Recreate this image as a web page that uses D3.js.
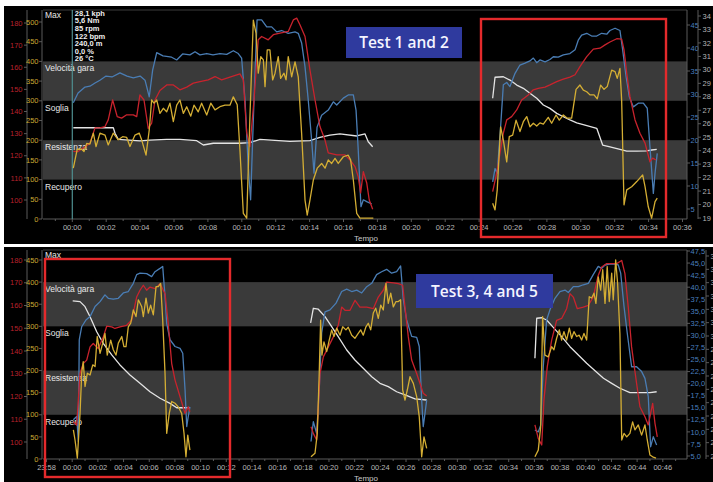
<!DOCTYPE html>
<html>
<head>
<meta charset="utf-8">
<script src="https://cdn.jsdelivr.net/npm/d3@7"></script>
<style>
  body { margin: 0; background: #fff; }
  svg { display: block; }
</style>
</head>
<body>
<svg id="chart" width="713" height="482"></svg>
<script>
// ---- Session 1 (tests 1 and 2): [minutes, value] ----
const speed1 = [[0.06,28.1],[0.34,30.2],[0.75,31.5],[1.04,31.7],[1.34,32.4],[1.63,33.0],[1.99,33.9],[2.34,33.7],[2.81,34.6],[3.23,33.9],[3.60,33.5],[4.00,33.9],[4.29,33.0],[4.54,29.4],[4.74,35.2],[4.98,39.0],[5.35,38.3],[5.86,38.0],[6.16,37.4],[6.51,38.7],[6.94,38.5],[7.24,39.2],[7.53,38.5],[7.93,38.8],[8.30,38.5],[8.71,38.8],[9.11,38.6],[9.50,39.4],[9.79,38.8],[9.99,37.8],[10.19,28.7],[10.38,14.2],[10.52,7.0],[10.72,28.7],[10.90,46.1],[11.17,46.1],[11.47,44.6],[11.76,44.6],[12.06,43.5],[12.35,43.8],[12.74,43.2],[13.14,43.5],[13.33,43.2],[13.53,41.1],[13.73,35.9],[13.92,28.7],[14.12,20.0],[14.26,12.8],[14.44,22.8],[14.71,25.4],[15.10,26.5],[15.40,28.3],[15.60,27.6],[15.99,29.1],[16.28,29.8],[16.58,29.8],[16.74,26.5],[16.87,17.8],[17.03,5.5],[17.17,7.0],[17.37,6.6],[17.66,6.1]];
const hr1 = [[0.06,122.0],[0.34,121.9],[0.75,124.1],[1.04,125.7],[1.34,132.6],[1.63,132.6],[1.93,133.2],[2.12,136.2],[2.38,145.2],[2.65,137.7],[2.91,137.0],[3.21,138.5],[3.60,138.5],[3.80,137.7],[3.99,147.5],[4.23,145.2],[4.48,132.4],[4.68,134.7],[4.88,145.2],[5.17,149.5],[5.57,152.0],[5.96,152.0],[6.35,149.8],[6.75,151.0],[7.14,152.8],[7.53,153.5],[8.02,154.3],[8.42,155.8],[8.81,154.3],[9.30,155.5],[9.89,157.0],[10.09,154.3],[10.29,130.3],[10.48,124.1],[10.72,145.2],[10.97,172.4],[11.17,173.9],[11.56,172.4],[11.86,174.7],[12.25,175.4],[12.74,176.2],[13.04,181.4],[13.24,182.2],[13.43,179.2],[13.73,173.9],[14.02,158.8],[14.32,145.2],[14.61,133.2],[14.91,127.1],[15.10,121.3],[15.60,120.4],[16.09,120.4],[16.38,118.1],[16.68,115.1],[16.87,110.5],[17.01,103.2],[17.17,112.8],[17.37,107.7],[17.52,100.0],[17.72,95.8]];
const power1 = [[0.06,129],[0.16,150],[0.29,177],[0.55,177],[0.69,171],[0.85,192],[1.04,190],[1.24,218],[1.40,184],[1.63,218],[1.93,213],[2.12,188],[2.42,218],[2.71,201],[2.97,209],[3.21,207],[3.40,184],[3.70,213],[3.95,218],[4.09,201],[4.35,162],[4.54,226],[4.68,302],[4.82,294],[4.98,302],[5.17,268],[5.37,281],[5.57,272],[5.76,294],[5.96,247],[6.16,289],[6.35,302],[6.55,268],[6.75,285],[6.99,261],[7.18,289],[7.43,272],[7.63,294],[7.93,264],[8.17,294],[8.42,277],[8.71,285],[9.01,289],[9.30,289],[9.50,310],[9.73,290],[9.89,175],[10.09,14],[10.29,2],[10.48,260],[10.68,505],[10.84,471],[10.97,370],[11.12,412],[11.27,404],[11.37,336],[11.50,429],[11.66,429],[11.82,353],[11.96,370],[12.15,412],[12.29,357],[12.49,370],[12.61,353],[12.74,412],[12.94,361],[13.14,399],[13.33,361],[13.53,217],[13.73,48],[13.86,10],[14.02,48],[14.22,99],[14.45,129],[14.71,141],[14.91,129],[15.10,150],[15.30,141],[15.50,154],[15.69,141],[15.99,158],[16.28,162],[16.42,150],[16.58,99],[16.78,14],[16.97,2],[17.76,2]];
const temp1 = [[0.06,25.70],[2.42,25.70],[2.52,25.29],[2.71,24.84],[3.99,24.72],[4.58,24.79],[5.57,24.84],[6.35,24.84],[7.34,24.74],[7.73,24.42],[8.32,24.55],[9.89,24.55],[10.48,24.59],[11.07,24.84],[12.84,24.69],[14.02,24.74],[14.61,24.99],[15.20,25.16],[15.79,25.24],[16.78,25.09],[17.27,25.24],[17.46,24.66],[17.72,24.29]];

const speed2 = [[24.80,10.9],[24.94,13.8],[25.07,12.8],[25.27,22.9],[25.43,32.0],[25.63,32.5],[25.82,31.6],[26.12,34.5],[26.41,36.3],[26.71,36.7],[27.00,37.2],[27.20,37.8],[27.40,36.8],[27.59,37.4],[27.89,37.0],[28.18,37.5],[28.38,38.1],[28.67,38.0],[28.97,38.5],[29.36,38.8],[29.66,39.6],[29.85,41.7],[30.05,42.8],[30.35,43.2],[30.64,42.6],[30.94,42.6],[31.23,43.2],[31.53,43.0],[31.72,43.8],[32.02,44.3],[32.31,43.8],[32.47,39.6],[32.67,33.8],[32.86,29.4],[33.10,27.2],[33.39,28.0],[33.69,28.0],[33.92,26.9],[34.08,18.5],[34.28,8.4],[34.38,12.8],[34.51,17.1]];
const hr2 = [[24.80,103.8],[25.04,112.1],[25.23,121.1],[25.43,130.2],[25.63,136.2],[25.92,137.7],[26.22,140.7],[26.51,145.2],[26.90,147.5],[27.20,149.8],[27.49,150.5],[27.89,151.0],[28.18,152.0],[28.58,153.5],[28.97,154.6],[29.36,155.5],[29.66,156.6],[29.95,160.3],[30.35,164.8],[30.74,168.2],[31.13,168.6],[31.43,170.1],[31.72,171.4],[32.12,172.9],[32.41,172.7],[32.55,167.9],[32.71,157.3],[32.90,146.7],[33.20,136.2],[33.49,130.2],[33.79,125.7],[34.08,117.3],[34.24,118.9],[34.44,118.1]];
const power2 = [[24.80,40],[24.94,23],[25.07,74],[25.27,234],[25.43,200],[25.63,145],[25.78,209],[25.98,213],[26.18,251],[26.41,222],[26.61,247],[26.81,260],[27.00,234],[27.20,243],[27.40,236],[27.59,244],[27.79,241],[28.08,258],[28.28,243],[28.54,264],[28.73,251],[28.97,264],[29.20,256],[29.46,256],[29.72,329],[29.95,340],[30.15,327],[30.35,323],[30.54,315],[30.78,315],[30.97,305],[31.17,340],[31.37,329],[31.56,336],[31.82,378],[32.02,374],[32.15,357],[32.31,382],[32.41,302],[32.55,36],[32.71,74],[33.00,82],[33.30,95],[33.65,112],[33.79,82],[33.98,31],[34.18,2],[34.38,44],[34.51,53]];
const temp2 = [[24.80,27.89],[24.94,29.45],[25.43,29.49],[25.82,29.24],[26.22,28.87],[26.61,28.63],[27.00,28.26],[27.40,27.89],[27.79,27.39],[28.18,27.14],[28.58,26.77],[28.97,26.52],[29.36,26.28],[29.76,26.07],[30.25,25.90],[30.94,25.66],[31.29,24.42],[31.72,24.29],[32.31,24.10],[32.71,23.97],[33.30,23.97],[33.89,23.99],[34.18,24.05],[34.48,24.10]];

// ---- Session 2 (tests 3, 4 and 5) ----
const speed3 = [[0.09,12.5],[0.35,13.2],[0.48,8.0],[0.55,29.1],[0.74,31.8],[1.07,33.2],[1.39,33.9],[1.78,36.0],[2.17,37.0],[2.55,38.4],[2.81,37.7],[3.20,37.5],[3.59,37.7],[3.98,38.8],[4.37,39.1],[4.76,40.8],[5.02,42.6],[5.28,42.9],[5.80,42.8],[6.19,42.2],[6.45,43.2],[6.84,43.9],[7.05,44.3],[7.23,38.1],[7.36,32.5],[7.62,29.1],[8.01,27.7],[8.40,27.3],[8.61,26.3],[8.79,18.7],[8.92,11.1],[9.04,13.2],[9.17,15.2]];
const hr3 = [[0.09,108.9],[0.35,107.5],[0.61,130.1],[0.86,134.5],[1.13,136.0],[1.39,141.8],[1.64,143.3],[2.03,141.1],[2.42,146.2],[2.69,150.9],[3.08,150.6],[3.33,149.9],[3.72,150.6],[4.24,151.3],[4.63,153.5],[5.02,163.7],[5.28,166.7],[5.54,168.9],[5.80,166.7],[6.06,168.1],[6.45,167.4],[6.84,169.6],[7.23,165.2],[7.48,152.1],[7.75,134.5],[8.01,127.2],[8.40,119.9],[8.79,112.6],[9.04,115.5],[9.17,113.3]];
const power3 = [[0.09,66],[0.22,43],[0.40,2],[0.61,103],[0.74,194],[0.86,220],[1.00,164],[1.18,194],[1.39,190],[1.60,213],[1.78,209],[1.95,277],[2.17,239],[2.38,262],[2.55,284],[2.73,235],[3.00,269],[3.20,247],[3.41,235],[3.59,262],[3.86,277],[4.03,254],[4.19,254],[4.37,299],[4.56,307],[4.76,337],[4.97,322],[5.15,360],[5.41,345],[5.54,322],[5.75,364],[5.93,330],[6.11,348],[6.32,326],[6.53,390],[6.71,390],[6.89,397],[7.05,314],[7.23,194],[7.36,58],[7.56,103],[7.75,130],[8.01,126],[8.26,118],[8.53,103],[8.71,58],[8.86,5],[9.00,54],[9.17,20]];
const temp3 = [[0.04,32.63],[0.61,32.58],[1.00,32.20],[1.39,31.45],[1.91,30.32],[2.42,29.45],[3.08,28.58],[3.72,27.83],[4.50,27.08],[5.28,26.45],[6.06,25.82],[6.84,25.33],[7.62,24.95],[8.14,24.62],[9.17,24.62]];

const speed4 = [[18.60,8.0],[18.78,12.1],[19.04,9.7],[19.24,18.7],[19.43,30.5],[19.69,34.9],[20.08,35.3],[20.55,36.7],[20.99,39.1],[21.38,39.6],[21.77,39.1],[22.16,39.4],[22.55,38.8],[22.94,40.1],[23.33,40.8],[23.71,42.6],[24.10,43.2],[24.49,43.7],[24.88,42.9],[25.27,43.2],[25.58,44.4],[25.79,37.4],[26.05,33.2],[26.44,29.8],[26.83,29.6],[27.03,27.7],[27.22,16.6],[27.34,11.1],[27.48,13.9],[27.61,16.6]];
const hr4 = [[18.60,106.7],[18.78,103.8],[19.04,100.9],[19.30,130.1],[19.56,137.4],[19.95,141.8],[20.34,146.2],[20.72,151.3],[20.99,159.3],[21.25,157.9],[21.64,157.9],[22.03,162.3],[22.41,159.3],[22.94,159.3],[23.45,158.6],[23.84,163.7],[24.23,166.7],[24.49,170.3],[25.01,169.9],[25.40,169.6],[25.74,168.9],[25.92,159.3],[26.18,146.2],[26.44,136.0],[26.83,130.1],[27.09,125.7],[27.34,121.4],[27.61,120.2]];
const power4 = [[18.60,5],[18.91,13],[19.09,58],[19.24,194],[19.35,314],[19.45,235],[19.61,265],[19.82,243],[20.02,269],[20.21,292],[20.39,277],[20.60,296],[20.86,280],[21.07,299],[21.32,292],[21.50,298],[21.77,280],[22.02,273],[22.28,284],[22.47,292],[22.67,280],[22.88,299],[23.06,307],[23.25,292],[23.45,330],[23.64,341],[23.84,318],[24.03,348],[24.23,337],[24.44,397],[24.62,352],[24.81,375],[25.01,344],[25.22,356],[25.40,356],[25.58,360],[25.74,156],[25.92,133],[26.10,156],[26.31,186],[26.57,171],[26.83,141],[27.03,96],[27.22,5],[27.40,50],[27.61,24]];
const temp4 = [[18.57,30.98],[18.78,32.08],[19.17,32.01],[19.69,31.45],[20.21,30.70],[20.72,29.95],[21.38,28.95],[22.02,28.20],[22.67,27.58],[23.33,26.95],[23.97,26.45],[24.62,26.20],[25.27,25.82],[25.92,25.58],[26.70,25.28],[27.61,25.20]];

const speed5 = [[36.04,10.4],[36.30,10.0],[36.49,11.4],[36.69,23.5],[36.95,33.2],[37.21,35.3],[37.60,37.7],[37.99,39.1],[38.38,39.4],[38.64,38.9],[39.03,40.1],[39.42,40.1],[39.81,40.5],[40.20,40.8],[40.58,42.6],[40.97,44.3],[41.24,43.9],[41.50,44.6],[41.88,44.8],[42.27,44.8],[42.53,44.6],[42.72,42.9],[42.98,36.0],[43.23,30.5],[43.57,23.5],[43.96,23.5],[44.35,22.5],[44.61,21.1],[44.87,17.3],[45.05,6.9],[45.26,9.0],[45.52,7.3]];
const hr5 = [[36.04,107.5],[36.30,101.6],[36.57,98.7],[36.74,118.4],[37.00,133.0],[37.34,144.7],[37.73,153.5],[38.12,154.3],[38.51,158.6],[38.77,165.2],[39.03,163.7],[39.34,158.6],[39.81,159.3],[40.20,160.1],[40.58,163.7],[40.97,173.2],[41.24,176.9],[41.63,178.4],[42.02,178.4],[42.41,178.4],[42.80,179.8],[43.05,174.0],[43.31,159.3],[43.57,141.8],[43.96,125.7],[44.22,115.5],[44.61,111.1],[44.87,107.5],[45.21,117.0],[45.39,108.2],[45.57,102.3]];
const power5 = [[36.04,5],[36.30,20],[36.49,73],[36.64,322],[36.82,235],[37.08,231],[37.34,254],[37.52,247],[37.73,273],[37.94,292],[38.12,269],[38.30,288],[38.51,269],[38.72,296],[38.90,273],[39.08,288],[39.29,277],[39.49,280],[39.68,269],[39.86,284],[40.07,269],[40.27,367],[40.46,364],[40.64,375],[40.79,352],[40.97,412],[41.16,382],[41.32,428],[41.50,352],[41.67,435],[41.83,356],[42.02,420],[42.14,360],[42.33,450],[42.48,397],[42.66,284],[42.80,43],[42.98,58],[43.19,50],[43.44,58],[43.65,84],[43.83,66],[44.09,77],[44.35,54],[44.61,77],[44.79,43],[45.00,9],[45.21,5],[45.47,2]];
const temp5 = [[36.04,28.33],[36.18,31.33],[36.57,31.37],[36.95,31.20],[37.47,30.65],[38.12,29.95],[38.77,29.20],[39.42,28.58],[40.07,27.95],[40.72,27.40],[41.38,26.83],[42.02,26.45],[42.66,26.08],[43.44,25.75],[44.22,25.75],[45.00,25.75],[45.52,25.82]];

// ---- Tick values and labels ----
const hrTicks = [100,110,120,130,140,150,160,170,180];
const powerTicksTop = [0,50,100,150,200,250,300,350,400,450,500];
const powerTicksBottom = [0,50,100,150,200,250,300,350,400,450];
const speedTicksTop = [5,10,15,20,25,30,35,40,45];
const speedTicksBottom = [5,7.5,10,12.5,15,17.5,20,22.5,25,27.5,30,32.5,35,37.5,40,42.5,45,47.5];
const tempTicksTop = [19,20,21,22,23,24,25,26,27,28,29,30,31,32,33,34];
const tempTicksBottom = [21,22,23,24,25,26,27,28,29,30,31,32,33,34,35,36];
const timeTicksTop = [0,2,4,6,8,10,12,14,16,18,20,22,24,26,28,30,32,34,36];
const timeTicksBottom = [-2,0,2,4,6,8,10,12,14,16,18,20,22,24,26,28,30,32,34,36,38,40,42,44,46];
const zoneNames = ["Max","Velocità gara","Soglia","Resistenza","Recupero"];
const zoneTops = [null,400,300,200,100];   // power (W) at top of each zone
const shadedZones = [[300,400],[100,200]];
const cursorReadout = ["28,1 kph","5,6 Nm","85 rpm","122 bpm","240,0 m","0,0 %","26 °C"];
const timeAxisTitle = "Tempo";

const COL = { speed: "#4a7db4", hr: "#c8232d", power: "#d4ae34", temp: "#e4e4e4" };
const FONT = "'Liberation Sans', Arial, sans-serif";

const svg = d3.select("#chart");

function clock(m) {
  const t = ((m % 1440) + 1440) % 1440;
  const h = Math.floor(t / 60), mm = Math.round(t % 60);
  return String(h).padStart(2, "0") + ":" + String(mm).padStart(2, "0");
}
const comma1 = v => d3.format(".1f")(v).replace(".", ",");

function drawPanel(p) {
  const g = svg.append("g");
  const { left, right, top, bottom } = p.plot;

  g.append("rect").attr("x", p.bg[0]).attr("y", p.bg[1])
    .attr("width", p.bg[2]).attr("height", p.bg[3]).attr("fill", "#000");

  // shaded training zones
  shadedZones.forEach(([lo, hi]) => {
    g.append("rect").attr("x", left).attr("width", right - left)
      .attr("y", p.yW(hi)).attr("height", p.yW(lo) - p.yW(hi))
      .attr("fill", "#3a3a3a");
  });

  // frame
  g.append("line").attr("x1", left).attr("x2", right).attr("y1", top).attr("y2", top)
    .attr("stroke", "#3c3c3c");

  // zone names
  zoneNames.forEach((name, i) => {
    const y = zoneTops[i] === null ? top + 5 : p.yW(zoneTops[i]) + 7;
    g.append("text").attr("x", left + 2).attr("y", y).attr("dy", "0.35em")
      .attr("font-family", FONT).attr("font-size", 8.5).attr("fill", "#e8e8e8")
      .text(name);
  });

  // vertical axis helper
  function vAxis(scale, ticks, x, side, color, fmt, labelGap) {
    const a = g.append("g");
    a.append("line").attr("x1", x).attr("x2", x).attr("y1", top).attr("y2", bottom)
      .attr("stroke", "#5a5a5a");
    ticks.forEach(v => {
      const y = scale(v);
      a.append("line").attr("x1", x).attr("x2", x + side * 3).attr("y1", y).attr("y2", y)
        .attr("stroke", "#5a5a5a");
      a.append("text").attr("x", x + side * labelGap).attr("y", y).attr("dy", "0.35em")
        .attr("text-anchor", side < 0 ? "end" : "start")
        .attr("font-family", FONT).attr("font-size", 7.5).attr("fill", color)
        .text(fmt(v));
    });
  }
  vAxis(p.yHR, hrTicks, p.axisX.hr, -1, "#b8222c", d => d, 4.5);
  vAxis(p.yW, p.powerTicks, p.axisX.power, -1, "#c9a833", d => d, 3.5);
  vAxis(p.yV, p.speedTicks, p.axisX.speed, 1, "#4a7fbf", p.speedFmt, 3.5);
  vAxis(p.yT, p.tempTicks, p.axisX.temp, 1, "#b4b4b4", d => d, 4.5);

  // time axis
  g.append("line").attr("x1", left).attr("x2", right).attr("y1", bottom).attr("y2", bottom)
    .attr("stroke", "#5a5a5a");
  const [t0, t1] = p.x.domain();
  d3.range(Math.ceil(t0 - 2), Math.floor(t1 + 2) + 1).forEach(m => {
    const x = p.x(m);
    if (x < left || x > right) return;
    g.append("line").attr("x1", x).attr("x2", x).attr("y1", bottom)
      .attr("y2", bottom + (m % 2 === 0 ? 3 : 2)).attr("stroke", "#5a5a5a");
  });
  p.timeTicks.forEach(m => {
    g.append("text").attr("x", p.x(m)).attr("y", bottom + 8).attr("dy", "0.35em")
      .attr("text-anchor", "middle").attr("font-family", FONT).attr("font-size", 7.5)
      .attr("fill", "#b8b8b8").text(clock(m));
  });
  g.append("text").attr("x", 366).attr("y", bottom + 19).attr("dy", "0.35em")
    .attr("text-anchor", "middle").attr("font-family", FONT).attr("font-size", 8)
    .attr("fill", "#c8c8c8").text(timeAxisTitle);

  if (p.cursor !== undefined) {
    g.append("line").attr("x1", p.x(p.cursor)).attr("x2", p.x(p.cursor))
      .attr("y1", top).attr("y2", bottom).attr("stroke", "#4f8f90").attr("stroke-width", 1.2);
    cursorReadout.forEach((s, i) => {
      g.append("text").attr("x", p.x(p.cursor) + 2.5).attr("y", top + 3.3 + i * 7.55)
        .attr("dy", "0.35em").attr("font-family", FONT).attr("font-size", 7.5)
        .attr("font-weight", "bold").attr("fill", "#f0f0f0").text(s);
    });
  }

  // series lines
  const lines = g.append("g").attr("fill", "none").attr("stroke-width", 1.3)
    .attr("stroke-linejoin", "round");
  const draw = (data, y, color) => lines.append("path")
    .attr("d", d3.line().x(d => p.x(d[0])).y(d => y(d[1]))(data))
    .attr("stroke", color);
  p.tests.forEach(t => {
    draw(t.temp, p.yT, COL.temp);
    draw(t.speed, p.yV, COL.speed);
    draw(t.hr, p.yHR, COL.hr);
    draw(t.power, p.yW, COL.power);
  });

  // highlight frames
  p.boxes.forEach(b => {
    g.append("rect").attr("x", b[0]).attr("y", b[1]).attr("width", b[2] - b[0])
      .attr("height", b[3] - b[1]).attr("fill", "none")
      .attr("stroke", "#e42a2c").attr("stroke-width", 2.4);
  });

  // caption tag
  const c = p.caption;
  g.append("rect").attr("x", c.x0).attr("y", c.y0).attr("width", c.x1 - c.x0)
    .attr("height", c.y1 - c.y0).attr("fill", "#2f3a9e");
  g.append("text").attr("x", (c.x0 + c.x1) / 2).attr("y", (c.y0 + c.y1) / 2)
    .attr("dy", "0.36em").attr("text-anchor", "middle")
    .attr("font-family", "'Open Sans', Lato, sans-serif").attr("font-size", 15.5)
    .attr("font-weight", 600).attr("fill", "#f4f4ff").text(c.text);
}

// upper panel
drawPanel({
  bg: [4, 6, 709, 238],
  plot: { left: 43, right: 687, top: 10, bottom: 219 },
  x: d3.scaleLinear().domain([0, 36]).range([72.3, 682.5]),
  yHR: d3.scaleLinear().domain([100, 180]).range([200, 23]),
  yW: d3.scaleLinear().domain([0, 500]).range([219, 22]),
  yV: d3.scaleLinear().domain([5, 45]).range([209, 25]),
  yT: d3.scaleLinear().domain([19, 34]).range([218, 16]),
  axisX: { hr: 27, power: 42, speed: 687, temp: 698 },
  powerTicks: powerTicksTop, speedTicks: speedTicksTop, tempTicks: tempTicksTop,
  speedFmt: d => d, timeTicks: timeTicksTop,
  cursor: 0,
  tests: [
    { speed: speed1, hr: hr1, power: power1, temp: temp1 },
    { speed: speed2, hr: hr2, power: power2, temp: temp2 }
  ],
  boxes: [[481, 19, 666, 237]],
  caption: { x0: 346, y0: 27, x1: 462, y1: 58, text: "Test 1 and 2" }
});

// lower panel
drawPanel({
  bg: [4, 247, 709, 235],
  plot: { left: 43, right: 687, top: 250, bottom: 459 },
  x: d3.scaleLinear().domain([0, 46]).range([72.2, 662.8]),
  yHR: d3.scaleLinear().domain([100, 180]).range([442, 260]),
  yW: d3.scaleLinear().domain([0, 450]).range([459, 260]),
  yV: d3.scaleLinear().domain([5, 47.5]).range([456, 251]),
  yT: d3.scaleLinear().domain([21, 36]).range([456, 256]),
  axisX: { hr: 27, power: 42, speed: 687, temp: 706 },
  powerTicks: powerTicksBottom, speedTicks: speedTicksBottom, tempTicks: tempTicksBottom,
  speedFmt: comma1, timeTicks: timeTicksBottom,
  tests: [
    { speed: speed3, hr: hr3, power: power3, temp: temp3 },
    { speed: speed4, hr: hr4, power: power4, temp: temp4 },
    { speed: speed5, hr: hr5, power: power5, temp: temp5 }
  ],
  boxes: [[45, 259, 230, 477]],
  caption: { x0: 416, y0: 274, x1: 553, y1: 308, text: "Test 3, 4 and 5" }
});
</script>
</body>
</html>
